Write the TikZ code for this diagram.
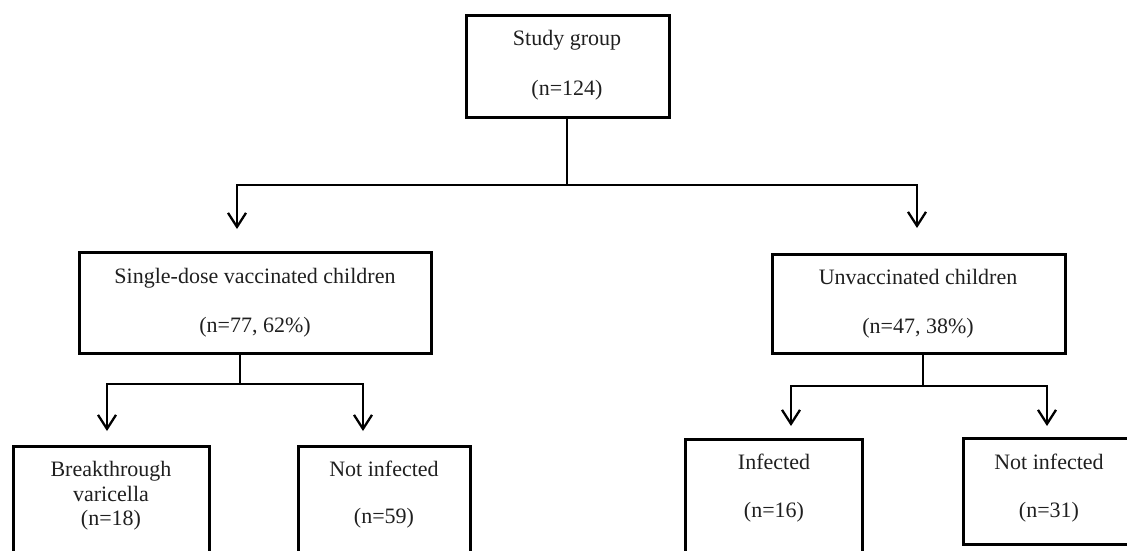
\documentclass[tikz,border=0pt]{standalone}
\usepackage{fontspec}
\setmainfont{Liberation Serif}
\usetikzlibrary{arrows.meta}
\begin{document}
\begin{tikzpicture}[x=1pt,y=-1pt,
  boxstyle/.style={draw=black,line width=3pt},
  txt/.style={anchor=base,inner sep=0pt,font=\fontsize{22}{26}\selectfont,text=black!88},
  conn/.style={draw=black,line width=2.3pt},
  arr/.style={conn,-{Straight Barb[length=14pt,width=18pt,line width=2.3pt]}}]
\useasboundingbox (0,0) rectangle (1127,550);
% boxes
\draw[boxstyle] (466,15) rectangle (669,117);
\coordinate (sgB) at (567,117);
\draw[boxstyle] (79,252) rectangle (431,353);
\coordinate (svB) at (240,353);
\draw[boxstyle] (772,254) rectangle (1065,353);
\coordinate (uvB) at (923,353);
\draw[boxstyle] (13,570) -- (13,446) -- (209,446) -- (209,570);
\draw[boxstyle] (298,570) -- (298,446) -- (470,446) -- (470,570);
\draw[boxstyle] (685,570) -- (685,439) -- (862,439) -- (862,570);
\draw[boxstyle] (1140,438) -- (963,438) -- (963,544) -- (1140,544);
% texts
\node[txt] (t1) at (567,45) {Study group};
\node[txt] (t2) at (567,95) {(n=124)};
\node[txt] (t3) at (255,283) {Single-dose vaccinated children};
\node[txt] (t4) at (255,332) {(n=77, 62\%)};
\node[txt] (t5) at (918,284) {Unvaccinated children};
\node[txt] (t6) at (918,333) {(n=47, 38\%)};
\node[txt] (t7) at (111,476) {Breakthrough};
\node[txt] (t8) at (111,501) {varicella};
\node[txt] (t9) at (111,525) {(n=18)};
\node[txt] (t10) at (384,476) {Not infected};
\node[txt] (t11) at (384,523) {(n=59)};
\node[txt] (t12) at (774,469) {Infected};
\node[txt] (t13) at (774,517) {(n=16)};
\node[txt] (t14) at (1049,469) {Not infected};
\node[txt] (t15) at (1049,517) {(n=31)};
% connectors
\coordinate (j1) at (567,185);
\coordinate (j1L) at (237,185);
\coordinate (j1R) at (917,185);
\coordinate (a1) at (237,229);
\coordinate (a2) at (917,228);
\draw[conn] (sgB) -- (j1);
\draw[conn,line cap=rect] (j1L) -- (j1R);
\draw[arr] (j1L) -- (a1);
\draw[arr] (j1R) -- (a2);
\coordinate (j2) at (240,384);
\coordinate (j2L) at (107,384);
\coordinate (j2R) at (363,384);
\coordinate (a3) at (107,431);
\coordinate (a4) at (363,431);
\draw[conn] (svB) -- (j2);
\draw[conn,line cap=rect] (j2L) -- (j2R);
\draw[arr] (j2L) -- (a3);
\draw[arr] (j2R) -- (a4);
\coordinate (j3) at (923,386);
\coordinate (j3L) at (791,386);
\coordinate (j3R) at (1047,386);
\coordinate (a5) at (791,426);
\coordinate (a6) at (1047,426);
\draw[conn] (uvB) -- (j3);
\draw[conn,line cap=rect] (j3L) -- (j3R);
\draw[arr] (j3L) -- (a5);
\draw[arr] (j3R) -- (a6);
\end{tikzpicture}
\end{document}
